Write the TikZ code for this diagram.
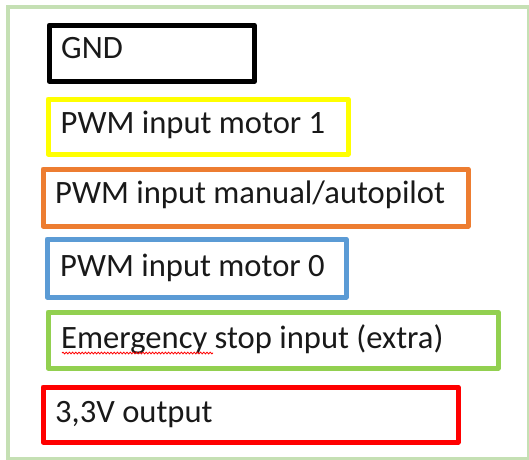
\documentclass[tikz,border=0pt]{standalone}
\usepackage{fontspec}
\setmainfont{Carlito}
\usetikzlibrary{decorations.pathmorphing}
\definecolor{frameg}{HTML}{C5E0B4}
\definecolor{oyellow}{HTML}{FFFF00}
\definecolor{oorange}{HTML}{ED7D31}
\definecolor{oblue}{HTML}{5B9BD5}
\definecolor{ogreen}{HTML}{92D050}
\definecolor{ored}{HTML}{FF0000}
\begin{document}
\begin{tikzpicture}[x=1pt,y=-1pt,
  pinbox/.style={draw=#1, line width=5pt, line join=round, rectangle, inner sep=0pt, anchor=north west, fill=none},
  lbl/.style={anchor=base west, inner sep=0pt, font=\fontsize{32.6}{38}\selectfont, text=black!90},
  spell/.style={draw=ored, line width=0.8pt, decorate, decoration={snake, segment length=3.2pt, amplitude=0.9pt}}]
\useasboundingbox (0,0) rectangle (529,459);
\fill[white] (0,0) rectangle (529,459);
% outer frame
\node[draw=frameg, line width=4pt, rectangle, inner sep=0pt, anchor=north west,
      minimum width=521.5pt, minimum height=452pt] (frame) at (5.5,5) {};
% boxes
\node[pinbox=black, line width=5.5pt, minimum width=205pt, minimum height=56pt] (gnd) at (46.5,22.5) {};
\node[pinbox=oyellow, minimum width=300pt, minimum height=55pt] (m1) at (45.5,96.5) {};
\node[pinbox=oorange, minimum width=425pt, minimum height=57pt] (man) at (40.5,166.5) {};
\node[pinbox=oblue, minimum width=299pt, minimum height=58pt] (m0) at (44.5,236.5) {};
\node[pinbox=ogreen, minimum width=450pt, minimum height=56pt] (emg) at (45.5,309.5) {};
\node[pinbox=ored, minimum width=415pt, minimum height=55pt] (v33) at (40.5,384.5) {};
% labels
\node[lbl] (gndt) at (61,58) {GND};
\node[lbl] (m1t) at (60.5,133) {PWM input motor 1};
\node[lbl] (mant) at (55,203) {PWM input manual/autopilot};
\node[lbl] (m0t) at (60,276) {PWM input motor 0};
\node[lbl] (emgt) at (61,348) {Emergency stop input (extra)};
\node[lbl] (v33t) at (55,422) {3,3V output};
% spell-check underline
\coordinate (sqa) at (62,353);
\coordinate (sqb) at (213,353);
\draw[spell] (sqa) -- (sqb);
\end{tikzpicture}
\end{document}
